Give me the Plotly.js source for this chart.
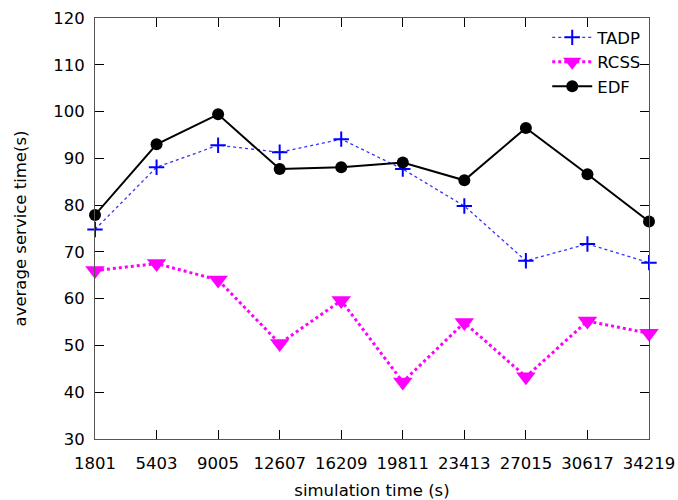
<!DOCTYPE html>
<html><head><meta charset="utf-8">
<script src="https://cdn.plot.ly/plotly-3.0.1.min.js"></script>
<style>body{margin:0;background:#fff}#c{width:678px;height:500px}</style>
</head><body><div id="c"></div>
<script>
var times = ["1801","5403","9005","12607","16209","19811","23413","27015","30617","34219"];
var tadp = [74.8, 88.1, 92.8, 91.3, 94.1, 87.7, 79.8, 68.1, 71.7, 67.7];
var rcss = [66.0, 67.5, 64.0, 50.4, 59.6, 42.2, 54.9, 43.3, 55.2, 52.6];
var edf  = [77.9, 93.0, 99.4, 87.7, 88.1, 89.1, 85.3, 96.5, 86.6, 76.5];
var yTicks = [30,40,50,60,70,80,90,100,110,120];

var font = {family: "DejaVu Sans, sans-serif", size: 16.5, color: "#000"};
var traces = [
  {x: times, y: tadp, name: "TADP", mode: "lines+markers", cliponaxis: false,
   line: {color: "#3333ff", width: 1.3, dash: "dot"},
   marker: {symbol: "cross-thin", size: 11, line: {color: "#0000ff", width: 2}}},
  {x: times, y: rcss, name: "RCSS", mode: "lines+markers", cliponaxis: false,
   line: {color: "#ff00ff", width: 3, dash: "dot"},
   marker: {symbol: "triangle-down", size: 17, color: "#ff00ff"}},
  {x: times, y: edf, name: "EDF", mode: "lines+markers", cliponaxis: false,
   line: {color: "#000000", width: 2},
   marker: {symbol: "circle", size: 12, color: "#000000"}}
];
var axisCommon = {showgrid: false, zeroline: false, showline: true, linecolor: "#555",
  linewidth: 1, mirror: "allticks", ticks: "inside", ticklen: 9, tickcolor: "#000",
  tickfont: font};
var layout = {
  width: 678, height: 500,
  margin: {l: 95, r: 29, t: 18, b: 61},
  paper_bgcolor: "#fff", plot_bgcolor: "#fff",
  font: font,
  showlegend: true,
  legend: {x: 0.995, y: 0.995, xanchor: "right", yanchor: "top", bgcolor: "rgba(0,0,0,0)",
    font: font, tracegroupgap: 0, itemwidth: 40},
  xaxis: Object.assign({}, axisCommon, {type: "category", range: [0, 9],
    ticklabelstandoff: 9,
    title: {text: "simulation time (s)", font: font, standoff: 14}}),
  yaxis: Object.assign({}, axisCommon, {range: [30, 120], tickvals: yTicks,
    ticklabelstandoff: 6,
    title: {text: "average service time(s)", font: font, standoff: 22}})
};
Plotly.newPlot("c", traces, layout, {displayModeBar: false});
</script></body></html>
